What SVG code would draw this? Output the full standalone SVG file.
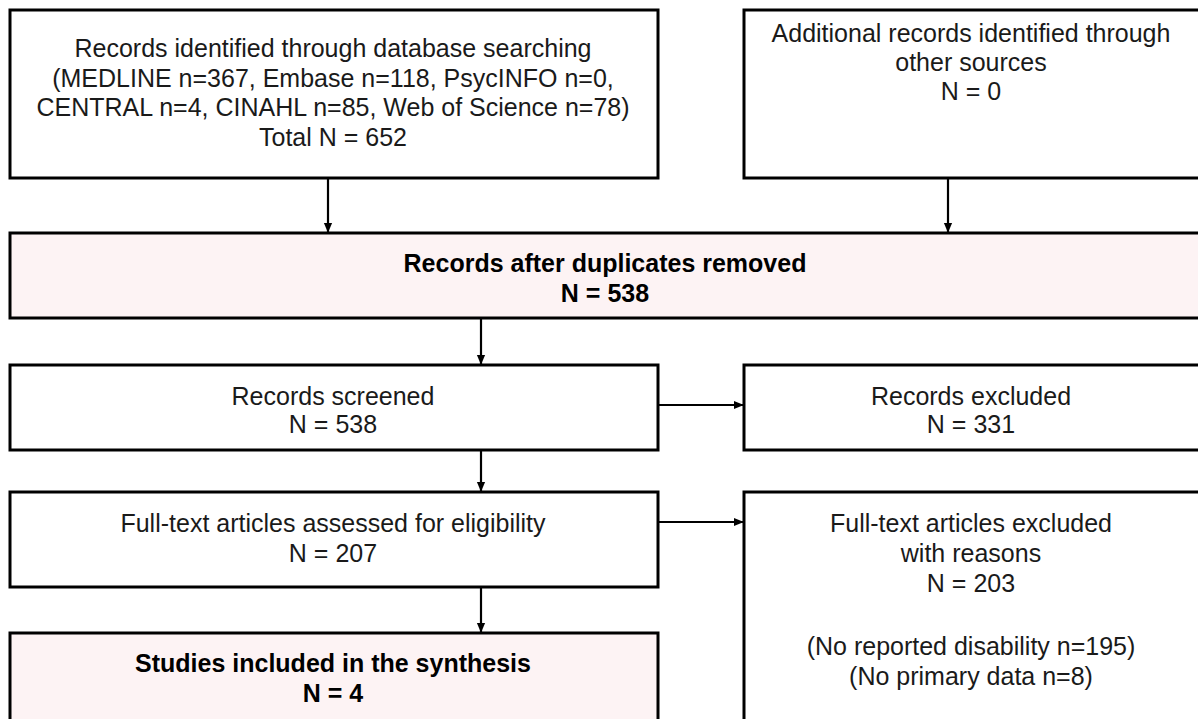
<svg xmlns="http://www.w3.org/2000/svg" width="1198" height="719" viewBox="0 0 1198 719">
<defs>
<marker id="ah" markerWidth="10" markerHeight="12" refX="11" refY="5" orient="auto" markerUnits="userSpaceOnUse" viewBox="0 0 12 10">
<path d="M0,0 L12,5 L0,10 z" fill="#000"/>
</marker>
<style>
.box{fill:#fff;stroke:#000;stroke-width:3}
.pink{fill:#fdf3f4;stroke:#000;stroke-width:3}
.t{font-family:"Liberation Sans",Arial,sans-serif;font-size:25px;fill:#1a1a1a;text-anchor:middle}
.b{font-weight:bold;fill:#000}
.c{stroke:#000;stroke-width:2.2;fill:none;marker-end:url(#ah)}
</style>
</defs>
<rect width="1198" height="719" fill="#fff"/>
<g id="identified">
<rect class="box" x="10" y="10" width="648" height="168"/>
<text class="t" x="333" y="57">Records identified through database searching</text>
<text class="t" x="333" y="87">(MEDLINE n=367, Embase n=118, PsycINFO  n=0,</text>
<text class="t" x="333" y="116">CENTRAL n=4, CINAHL n=85, Web of Science n=78)</text>
<text class="t" x="333" y="146">Total N = 652</text>
</g>
<g id="additional">
<rect class="box" x="744" y="10" width="470" height="168"/>
<text class="t" x="971" y="42">Additional records identified through</text>
<text class="t" x="971" y="71">other sources</text>
<text class="t" x="971" y="100">N = 0</text>
</g>
<g id="duplicates">
<rect class="pink" x="10" y="233" width="1204" height="85"/>
<text class="t b" x="605" y="272">Records after duplicates removed</text>
<text class="t b" x="605" y="302">N = 538</text>
</g>
<g id="screened">
<rect class="box" x="10" y="365" width="648" height="85"/>
<text class="t" x="333" y="405">Records screened</text>
<text class="t" x="333" y="433">N = 538</text>
</g>
<g id="excluded">
<rect class="box" x="744" y="365" width="470" height="85"/>
<text class="t" x="971" y="405">Records excluded</text>
<text class="t" x="971" y="433">N = 331</text>
</g>
<g id="fulltext">
<rect class="box" x="10" y="492" width="648" height="95"/>
<text class="t" x="333" y="532">Full-text articles assessed for eligibility</text>
<text class="t" x="333" y="562">N = 207</text>
</g>
<g id="ftexcluded">
<rect class="box" x="744" y="492" width="470" height="240"/>
<text class="t" x="971" y="532">Full-text articles excluded</text>
<text class="t" x="971" y="562">with reasons</text>
<text class="t" x="971" y="592">N = 203</text>
<text class="t" x="971" y="655">(No reported disability n=195)</text>
<text class="t" x="971" y="685">(No primary data n=8)</text>
</g>
<g id="included">
<rect class="pink" x="10" y="633" width="648" height="100"/>
<text class="t b" x="333" y="672">Studies included in the synthesis</text>
<text class="t b" x="333" y="702">N = 4</text>
</g>
<g id="connectors">
<line class="c" x1="328" y1="178" x2="328" y2="232"/>
<line class="c" x1="948" y1="178" x2="948" y2="232"/>
<line class="c" x1="481" y1="318" x2="481" y2="364"/>
<line class="c" x1="658" y1="405" x2="743" y2="405"/>
<line class="c" x1="481" y1="450" x2="481" y2="491"/>
<line class="c" x1="658" y1="522" x2="743" y2="522"/>
<line class="c" x1="481" y1="587" x2="481" y2="632"/>
</g>
</svg>
